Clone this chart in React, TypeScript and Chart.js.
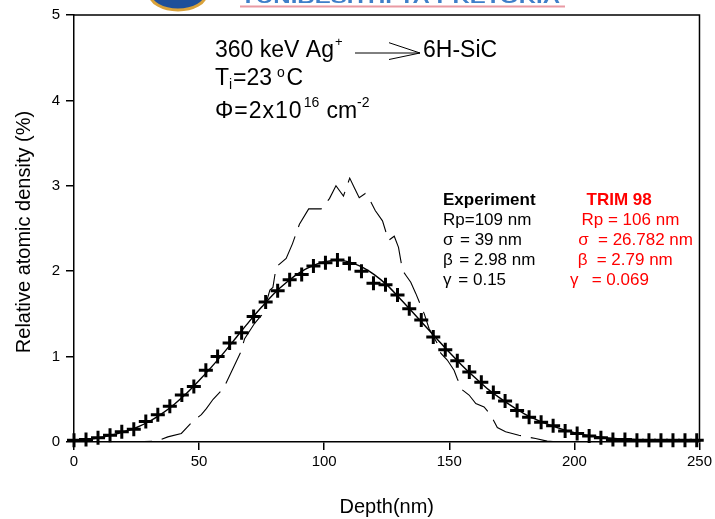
import React, { useEffect, useRef } from "react";
import { Chart, registerables } from "chart.js";

Chart.register(...registerables);

// Measured profile (crosses): depth in nm, relative atomic density in %
const expDepth = [
  0, 4.8, 9.6, 14.4, 19.1, 23.9, 28.7, 33.5, 38.3, 43.1, 47.9, 52.7, 57.4, 62.2,
  67.0, 71.8, 76.6, 81.4, 86.2, 91.0, 95.7, 100.5, 105.3, 110.1, 114.9, 119.7,
  124.5, 129.3, 134.0, 138.8, 143.6, 148.4, 153.2, 158.0, 162.8, 167.6, 172.3,
  177.1, 181.9, 186.7, 191.5, 196.3, 201.1, 205.9, 210.6, 215.4, 220.2, 225.0,
  229.8, 234.6, 239.4, 244.2, 248.9,
];
const expValue = [
  0.02, 0.03, 0.05, 0.08, 0.12, 0.15, 0.24, 0.32, 0.42, 0.55, 0.65, 0.84, 1.0,
  1.16, 1.28, 1.47, 1.64, 1.77, 1.9, 1.96, 2.06, 2.1, 2.13, 2.09, 2.0, 1.86,
  1.84, 1.72, 1.56, 1.43, 1.23, 1.08, 0.95, 0.82, 0.7, 0.58, 0.48, 0.37, 0.29,
  0.23, 0.19, 0.13, 0.1, 0.07, 0.05, 0.03, 0.03, 0.02, 0.02, 0.02, 0.02, 0.02,
  0.02,
];

// Fitted distribution (solid line)
const fitDepth = [
  0, 5, 10, 15, 20, 25, 30, 35, 40, 45, 50, 55, 60, 65, 70, 75, 80, 85, 90, 95,
  100, 105, 110, 115, 120, 125, 130, 135, 140, 145, 150, 155, 160, 165, 170, 175,
  180, 185, 190, 195, 200, 205, 210, 215, 220, 225, 230, 235, 240, 245, 250,
];
const fitValue = [
  0.02, 0.03, 0.05, 0.08, 0.12, 0.17, 0.24, 0.33, 0.44, 0.57, 0.72, 0.88, 1.05,
  1.23, 1.41, 1.58, 1.74, 1.87, 1.98, 2.06, 2.11, 2.13, 2.11, 2.05, 1.96, 1.84,
  1.69, 1.53, 1.37, 1.21, 1.05, 0.9, 0.76, 0.63, 0.52, 0.42, 0.33, 0.26, 0.2,
  0.15, 0.11, 0.08, 0.06, 0.045, 0.035, 0.028, 0.022, 0.018, 0.015, 0.012, 0.01,
];

// TRIM 98 simulation (long-dashed, noisy)
const trimDepth = [
  0, 10, 20, 28, 33.0, 37.5, 42.9, 47.4, 50.9, 52.9, 55.6, 59.8, 66.6, 68.2,
  72.2, 74.2, 75.5, 78.3, 79.5, 80.8, 84.8, 87.3, 90.1, 93.8, 98.8, 102.1, 104.7,
  107.7, 110.2, 112.0, 114.0, 116.4, 118.0, 120.4, 123.3, 125.7, 128.0, 129.7,
  131.3, 132.7, 134.6, 136.6, 140.0, 141.9, 145.3, 146.6, 149.2, 151.9, 153.2,
  155.2, 157.9, 160.6, 163.9, 166.5, 169.2, 172.5, 177.8, 184.5, 189.1, 193.8,
  210, 230, 250,
];
const trimValue = [
  0, 0, 0, 0.005, 0.01, 0.06, 0.1, 0.24, 0.32, 0.39, 0.5, 0.63, 1.05, 1.21, 1.39,
  1.46, 1.5, 1.78, 1.81, 2.05, 2.15, 2.32, 2.55, 2.73, 2.73, 2.85, 3.0, 2.88,
  3.09, 2.98, 2.86, 2.91, 2.85, 2.71, 2.59, 2.36, 2.41, 2.28, 2.01, 1.95, 1.87,
  1.74, 1.5, 1.33, 1.15, 1.04, 0.96, 0.84, 0.74, 0.61, 0.55, 0.45, 0.41, 0.32,
  0.17, 0.12, 0.08, 0.04, 0.01, 0, 0, 0, 0,
];

const xTicks = [0, 50, 100, 150, 200, 250];
const yTicks = [0, 1, 2, 3, 4, 5];

const FONT = '"Liberation Sans", Arial, Helvetica, sans-serif';
const RED = "#ff0000";

const pairs = (xs: number[], ys: number[]) => xs.map((x, i) => ({ x, y: ys[i] }));

const textPlugin = {
  id: "frameAndText",
  afterDraw(chart: any) {
    const { ctx, chartArea } = chart;
    const { left, right, top, bottom } = chartArea;
    ctx.save();

    // frame: top and right edges
    ctx.strokeStyle = "#000";
    ctx.lineWidth = 1.5;
    ctx.beginPath();
    ctx.moveTo(left, top);
    ctx.lineTo(right, top);
    ctx.lineTo(right, bottom);
    ctx.stroke();

    ctx.fillStyle = "#000";

    // axis titles
    ctx.font = `20px ${FONT}`;
    ctx.textAlign = "center";
    ctx.textBaseline = "middle";
    ctx.fillText("Depth(nm)", (left + right) / 2, 507);
    ctx.save();
    ctx.translate(24, 232);
    ctx.rotate(-Math.PI / 2);
    ctx.fillText("Relative atomic density (%)", 0, 0);
    ctx.restore();
    ctx.textAlign = "left";
    ctx.textBaseline = "alphabetic";

    // beam / target description
    const big = `23px ${FONT}`;
    const small = `14px ${FONT}`;
    ctx.font = big;
    ctx.fillText("360 keV Ag", 215, 57);
    const wAg = ctx.measureText("360 keV Ag").width;
    ctx.font = `13px ${FONT}`;
    ctx.fillText("+", 215 + wAg + 1, 46);

    ctx.lineWidth = 1;
    ctx.beginPath();
    ctx.moveTo(355, 53);
    ctx.lineTo(420, 53);
    ctx.moveTo(389, 42.7);
    ctx.lineTo(420, 53);
    ctx.lineTo(389, 59.5);
    ctx.stroke();

    ctx.font = big;
    ctx.fillText("6H-SiC", 423, 57);

    ctx.fillText("T", 215, 85);
    ctx.font = small;
    ctx.fillText("i", 229, 89);
    ctx.font = big;
    ctx.fillText("=23", 233, 85);
    ctx.font = small;
    ctx.fillText("o", 277, 77);
    ctx.font = big;
    ctx.fillText("C", 286.5, 85);

    ctx.save();
    (ctx as any).letterSpacing = "1px";
    ctx.fillText("\u03A6=2x10", 215, 118);
    const wPhi = ctx.measureText("\u03A6=2x10").width;
    ctx.restore();
    ctx.font = small;
    ctx.fillText("16", 215 + wPhi + 1, 107);
    ctx.font = big;
    ctx.fillText("cm", 326.5, 118);
    ctx.font = small;
    ctx.fillText("-2", 357, 107);

    // parameter table: experiment
    ctx.font = `bold 17px ${FONT}`;
    ctx.fillText("Experiment", 443, 205);
    ctx.font = `17px ${FONT}`;
    ctx.fillText("Rp=109 nm", 443, 225);
    ctx.fillText("\u03C3", 443, 244.5);
    ctx.fillText("= 39 nm", 460, 244.5);
    ctx.fillText("\u03B2", 443, 264.5);
    ctx.fillText("= 2.98 nm", 459.3, 264.5);
    ctx.fillText("\u03B3", 443, 285);
    ctx.fillText("= 0.15", 458.3, 285);

    // parameter table: TRIM 98
    ctx.fillStyle = RED;
    ctx.font = `bold 17px ${FONT}`;
    ctx.fillText("TRIM 98", 586.5, 204.5);
    ctx.font = `17px ${FONT}`;
    ctx.fillText("Rp = 106 nm", 581.5, 225);
    ctx.fillText("\u03C3", 578.3, 244.5);
    ctx.fillText("= 26.782 nm", 598, 244.5);
    ctx.fillText("\u03B2", 577.7, 264.5);
    ctx.fillText("= 2.79 nm", 596.7, 264.5);
    ctx.fillText("\u03B3", 570, 285);
    ctx.fillText("= 0.069", 591.7, 285);

    // university crest and name along the top edge
    ctx.fillStyle = "#1d4f9a";
    ctx.strokeStyle = "#d9a23a";
    ctx.lineWidth = 3;
    ctx.beginPath();
    ctx.ellipse(178, -6, 28, 16, 0, 0, Math.PI * 2);
    ctx.fill();
    ctx.stroke();

    ctx.save();
    ctx.font = `bold 16px ${FONT}`;
    const name = "YUNIBESITHI YA PRETORIA";
    const wName = ctx.measureText(name).width;
    ctx.translate(240, 3);
    ctx.scale(320 / wName, 1);
    ctx.fillStyle = "#3f7fc9";
    ctx.fillText(name, 0, 0);
    ctx.restore();
    ctx.fillStyle = "#e99aa3";
    ctx.fillRect(240, 5.5, 325, 2);

    ctx.restore();
  },
};

export default function App() {
  const ref = useRef<HTMLCanvasElement | null>(null);

  useEffect(() => {
    if (!ref.current) return;
    const chart = new Chart(ref.current, {
      type: "line",
      data: {
        datasets: [
          {
            label: "Experiment",
            data: pairs(expDepth, expValue),
            showLine: false,
            pointStyle: "cross",
            pointRadius: 7,
            pointBorderWidth: 3,
            pointBorderColor: "#000",
            pointBackgroundColor: "#000",
            borderColor: "#000",
            clip: false,
            order: 0,
          },
          {
            label: "Fit",
            data: pairs(fitDepth, fitValue),
            borderColor: "#000",
            borderWidth: 1.4,
            pointRadius: 0,
            cubicInterpolationMode: "monotone",
            order: 1,
          },
          {
            label: "TRIM 98",
            data: pairs(trimDepth, trimValue),
            borderColor: "#000",
            borderWidth: 1.1,
            borderDash: [34, 10],
            pointRadius: 0,
            tension: 0,
            order: 2,
          },
        ],
      },
      options: {
        responsive: false,
        animation: false,
        layout: { padding: { left: 0, top: 14, right: 14, bottom: 0 } },
        plugins: {
          legend: { display: false },
          tooltip: { enabled: false },
        },
        scales: {
          x: {
            type: "linear",
            min: 0,
            max: 250,
            afterBuildTicks: (s: any) => {
              s.ticks = xTicks.map((v) => ({ value: v }));
            },
            afterFit: (s: any) => {
              s.height = 77;
            },
            grid: {
              drawOnChartArea: false,
              drawTicks: true,
              tickLength: 8,
              color: "#000",
              lineWidth: 1.5,
            },
            border: { display: true, color: "#000", width: 1.5 },
            ticks: {
              color: "#000",
              padding: 3,
              maxRotation: 0,
              font: { family: FONT, size: 15 },
            },
          },
          y: {
            type: "linear",
            min: 0,
            max: 5,
            afterBuildTicks: (s: any) => {
              s.ticks = yTicks.map((v) => ({ value: v }));
            },
            afterFit: (s: any) => {
              s.width = 74;
            },
            grid: {
              drawOnChartArea: false,
              drawTicks: true,
              tickLength: 8,
              color: "#000",
              lineWidth: 1.5,
            },
            border: { display: true, color: "#000", width: 1.5 },
            ticks: {
              color: "#000",
              padding: 6,
              font: { family: FONT, size: 15 },
            },
          },
        },
      },
      plugins: [textPlugin],
    });
    return () => chart.destroy();
  }, []);

  return (
    <div style={{ position: "absolute", left: 0, top: 0, width: 715, height: 519, background: "#fff" }}>
      <canvas ref={ref} width={715} height={519} style={{ display: "block" }} />
    </div>
  );
}
